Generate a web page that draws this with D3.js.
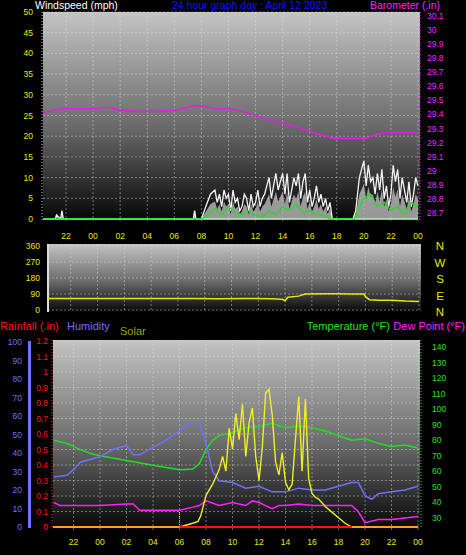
<!DOCTYPE html><html><head><meta charset="utf-8">
<script src="https://cdn.jsdelivr.net/npm/d3@7"></script>
<style>body{margin:0;background:#000}svg{display:block;font-family:"Liberation Sans",Arial,sans-serif}</style></head><body>
<svg id="c" width="466" height="555"></svg>
<script>
const hourTicks=[22,24,26,28,30,32,34,36,38,40,42,44,46,48];
const hourLabels=["22","00","02","04","06","08","10","12","14","16","18","20","22","00"];
const gustT=[20.3,21.2,21.3,21.6,21.7,21.8,31.4,31.5,31.6,32,32.33,32.67,33,33.17,33.33,33.5,33.67,33.83,34,34.17,34.33,34.5,34.67,34.83,35,35.17,35.33,35.5,35.67,35.83,36,36.17,36.33,36.5,36.67,36.83,37,37.17,37.33,37.5,37.67,37.83,38,38.17,38.33,38.5,38.67,38.83,39,39.17,39.33,39.5,39.67,39.83,40,40.17,40.33,40.5,40.67,40.83,41,41.17,41.33,41.5,41.67,43.2,43.4,43.5,43.67,43.83,44,44.17,44.33,44.5,44.67,44.83,45,45.17,45.33,45.5,45.67,45.83,46,46.17,46.33,46.5,46.67,46.83,47,47.17,47.33,47.5,47.67,47.83,48];
const gustV=[0,0,1,0,2,0,0,2,0,0,3,6,7,4,6,3,7,5,6,2,7,4,5,2,3,6,5,2,6,3,4,7,3,5,6,8,10,5,8,11,7,9,11,6,11,4,7,10,8,11,5,9,11,4,7,3,5,8,4,6,3,5,2,4,0,0,2,5,10,12,14,8,13,9,10,6,11,7,12,5,8,3,6,13,9,12,5,10,7,4,9,3,6,10,8];
const avgT=[20.3,32,32.5,33,33.5,34,34.5,35,35.5,36,36.5,37,37.5,38,38.5,39,39.5,40,40.5,41,41.5,42,43.3,43.7,44,44.5,45,45.5,46,46.5,47,47.5,48];
const avgV=[0,0,1,2.5,1,3,1.5,1,2,1,0.5,2,1,3,2,3.5,1.5,2,1,1,0,0,0,3,5,6,3,4,2,3,1,4,3];
const baroT=[20.3,22,24,25,26,28,30,31,31.5,32,33,34,35,36,37,38,39,40,41,42,43,44,45,46,48];
const baroV=[29.40,29.43,29.43,29.44,29.42,29.41,29.42,29.44,29.45,29.45,29.43,29.43,29.41,29.38,29.35,29.33,29.30,29.27,29.24,29.22,29.22,29.22,29.25,29.26,29.26];
const dirT=[20.3,31,33,35,37,37.8,38,38.2,39,39.5,41,42,43,43.9,44,44.3,45,46,47,48];
const dirV=[65,65,63,65,63,60,52,72,78,90,92,92,90,90,75,58,55,55,50,48];
const tempT=[20.5,21.5,22.5,23.5,24,26,28,30,31,31.5,32,32.5,33,34,35,36,37,38,39,40,41,42,43,44,45,46,47,48];
const tempV=[80,78,74,71,70,67,64,61,61.5,65,74,80,83,85,88,89,91,88,89,88,86,83,80,81,78,76,77,75];
const humT=[20.5,21.5,22,22.5,23.5,24,25,26,26.5,27,28,29,30,30.5,31,31.5,32,32.5,33,34,35,36,37,38,39,40,41,42,43,43.5,44,44.5,45,46,47,48];
const humV=[27,28,31,35,37,38,42,44,39,39,43,47,52,55,56,56,45,30,25,24,21,22,19,19,21,20,20,22,24,24,17,15,18,19,20,22];
const dewT=[20.5,21,24,26,26.5,27,30,31,31.5,32,33,34,35,35.5,36,36.5,37,37.5,38,39,40,41,42,43,43.5,44,45,46,47,48];
const dewV=[40,38,38,39,39,35,35,37,38,41,38,40,38,41,40,38,36,38,38,39,38,38,38,38,34,27,29,29,30,31];
const solarT=[20.5,30,31,31.4,31.6,32,32.5,33,33.25,33.5,33.75,34,34.25,34.5,34.75,35,35.25,35.5,35.75,36,36.25,36.5,36.75,37,37.25,37.5,37.75,38,38.25,38.5,38.75,39,39.25,39.5,39.75,40,40.25,40.5,41,41.5,42,42.5,43,43.2,48];
const solarV=[0,0,20,30,60,170,230,310,380,300,530,420,610,470,660,380,560,640,380,250,430,720,740,600,350,280,400,240,200,230,470,700,300,690,260,180,160,150,110,80,50,20,0,0,0];
const svg=d3.select("#c");
const defs=svg.append("defs");
const g=defs.append("linearGradient").attr("id","bg").attr("x1",0).attr("y1",0).attr("x2",0).attr("y2",1);
g.append("stop").attr("offset",0).attr("stop-color","#c4c4c4");
g.append("stop").attr("offset",0.55).attr("stop-color","#6a6a6a");
g.append("stop").attr("offset",1).attr("stop-color","#050505");
function panel(x0,x1,y0,y1,t0){
  svg.append("rect").attr("x",x0).attr("y",y0).attr("width",x1-x0).attr("height",y1-y0).attr("fill","url(#bg)");
  const x=d3.scaleLinear().domain([t0,48]).range([x0,x1-2]);
  hourTicks.forEach(h=>svg.append("line").attr("x1",x(h)).attr("x2",x(h)).attr("y1",y0).attr("y2",y1).attr("stroke","#ddd").attr("stroke-opacity",0.45).attr("stroke-dasharray","2,2"));
  return x;
}
function hgrid(y,vals,x0,x1){vals.forEach(v=>svg.append("line").attr("x1",x0).attr("x2",x1).attr("y1",y(v)).attr("y2",y(v)).attr("stroke","#ddd").attr("stroke-opacity",0.45).attr("stroke-dasharray","2,2"));}
function xlabels(x,yy){hourTicks.forEach((h,i)=>svg.append("text").attr("x",x(h)).attr("y",yy).attr("text-anchor","middle").attr("font-size",8.5).attr("fill","#e8e800").text(hourLabels[i]));}
function yaxis(y,vals,xpos,col,anchor,fmt,dy){
  vals.forEach(v=>{svg.append("text").attr("x",xpos).attr("y",y(v)+(dy||3)).attr("text-anchor",anchor).attr("font-size",8.5).attr("fill",col).text(fmt?fmt(v):v);});
}
function line(x,y,T,V,col,w,curve){svg.append("path").attr("d",d3.line().x((d,i)=>x(T[i])).y(d=>y(d)).curve(curve||d3.curveLinear)(V)).attr("fill","none").attr("stroke",col).attr("stroke-width",w);}
// ---- Top
let x1=panel(43,420,12,221,20.3);
let yW=d3.scaleLinear().domain([0,50]).range([219,12]);
let yB=d3.scaleLinear().domain([28.6,30.1]).range([226,14]);
hgrid(yW,d3.range(0,51,5),43,420);
yaxis(yW,d3.range(0,51,5),33,"#e8e800","end");
yaxis(yB,[28.7,28.8,28.9,29,29.1,29.2,29.3,29.4,29.5,29.6,29.7,29.8,29.9,30,30.1],427,"#ff20ff","start",null,4.5);
svg.append("line").attr("x1",420).attr("x2",420).attr("y1",12).attr("y2",221).attr("stroke","#ff20ff").attr("stroke-dasharray","1,2");
svg.append("line").attr("x1",42).attr("x2",42).attr("y1",12).attr("y2",221).attr("stroke","#ccc").attr("stroke-dasharray","1,2");
svg.append("path").attr("d",d3.area().x((d,i)=>x1(gustT[i])).y0(yW(0)).y1(d=>yW(d*0.6))(gustV)).attr("fill","#bbb").attr("opacity",0.8);
line(x1,yW,gustT,gustV,"#f4f4f4",1.3);
line(x1,yW,[20.3,48],[0,0],"#b8f0b8",1.5);
line(x1,yW,avgT,avgV,"#20e020",1.3);
line(x1,yB,baroT,baroV,"#e020e0",1.6,d3.curveMonotoneX);
xlabels(x1,239);
svg.append("text").attr("x",35).attr("y",9).attr("font-size",10.5).attr("fill","#fff").text("Windspeed (mph)");
svg.append("text").attr("x",172).attr("y",9).attr("font-size",10.5).attr("fill","#1010ff").text("24 hour graph day : April 12 2023");
svg.append("text").attr("x",440).attr("y",9).attr("text-anchor","end").attr("font-size",10.5).attr("fill","#ff20ff").text("Barometer (.in)");
// ---- Middle
let x2=panel(48,421,244,312,20.3);
let yD=d3.scaleLinear().domain([0,360]).range([310,246]);
hgrid(yD,[0,90,180,270,360],48,421);
yaxis(yD,[0,90,180,270,360],40,"#e8e800","end");
svg.append("line").attr("x1",48).attr("x2",48).attr("y1",244).attr("y2",312).attr("stroke","#ddd").attr("stroke-width",2);
line(x2,yD,dirT,dirV,"#e8e800",1.5);
["N","W","S","E","N"].forEach((c,i)=>svg.append("text").attr("x",440).attr("y",250+i*16.5).attr("text-anchor","middle").attr("font-size",11.5).attr("fill","#e8e800").text(c));
// ---- Bottom
let x3=panel(53,420,340,530,20.45);
let yH=d3.scaleLinear().domain([0,100]).range([527,342]);
let yR=d3.scaleLinear().domain([0,1.2]).range([527,341]);
let yT=d3.scaleLinear().domain([30,140]).range([518,347]);
let yS=d3.scaleLinear().domain([0,1000]).range([527,341]);
hgrid(yR,d3.range(0,1.21,0.1),53,420);
yaxis(yH,d3.range(0,101,10),22,"#7070ff","end");
yaxis(yR,d3.range(0,1.21,0.1),48,"#ff1010","end",v=>(+v.toFixed(1)).toString());
yaxis(yT,d3.range(30,141,10),432,"#20e020","start");
svg.append("rect").attr("x",28).attr("y",341).attr("width",3).attr("height",187).attr("fill","#7070ff");
svg.append("line").attr("x1",52).attr("x2",52).attr("y1",340).attr("y2",528).attr("stroke","#ff3030").attr("stroke-dasharray","1,2");
svg.append("line").attr("x1",421).attr("x2",421).attr("y1",340).attr("y2",528).attr("stroke","#20e020").attr("stroke-dasharray","1,2");
svg.append("line").attr("x1",x3(30)).attr("x2",x3(30)).attr("y1",yS(80)).attr("y2",527).attr("stroke","#e8e800").attr("stroke-dasharray","1,1");
line(x3,yT,tempT,tempV,"#20e020",1.5);
line(x3,yH,humT,humV,"#7070ff",1.5);
line(x3,yT,dewT,dewV,"#ff20ff",1.5);
line(x3,yS,solarT,solarV,"#f0f020",1.4);
line(x3,yR,[20.45,48],[0,0],"#ffa020",2);
line(x3,yR,[30,43],[0,0],"#ff1010",2);
xlabels(x3,545);
svg.append("text").attr("x",0).attr("y",330).attr("font-size",11).attr("fill","#ff1010").text("Rainfall (.in)");
svg.append("text").attr("x",67).attr("y",330).attr("font-size",11).attr("fill","#7070ff").text("Humidity");
svg.append("text").attr("x",120).attr("y",335).attr("font-size",11).attr("fill","#a0a000").text("Solar");
svg.append("text").attr("x",390).attr("y",330).attr("text-anchor","end").attr("font-size",11).attr("fill","#20e020").text("Temperature (°F)");
svg.append("text").attr("x",465).attr("y",330).attr("text-anchor","end").attr("font-size",11).attr("fill","#ff20ff").text("Dew Point (°F)");
</script></body></html>
